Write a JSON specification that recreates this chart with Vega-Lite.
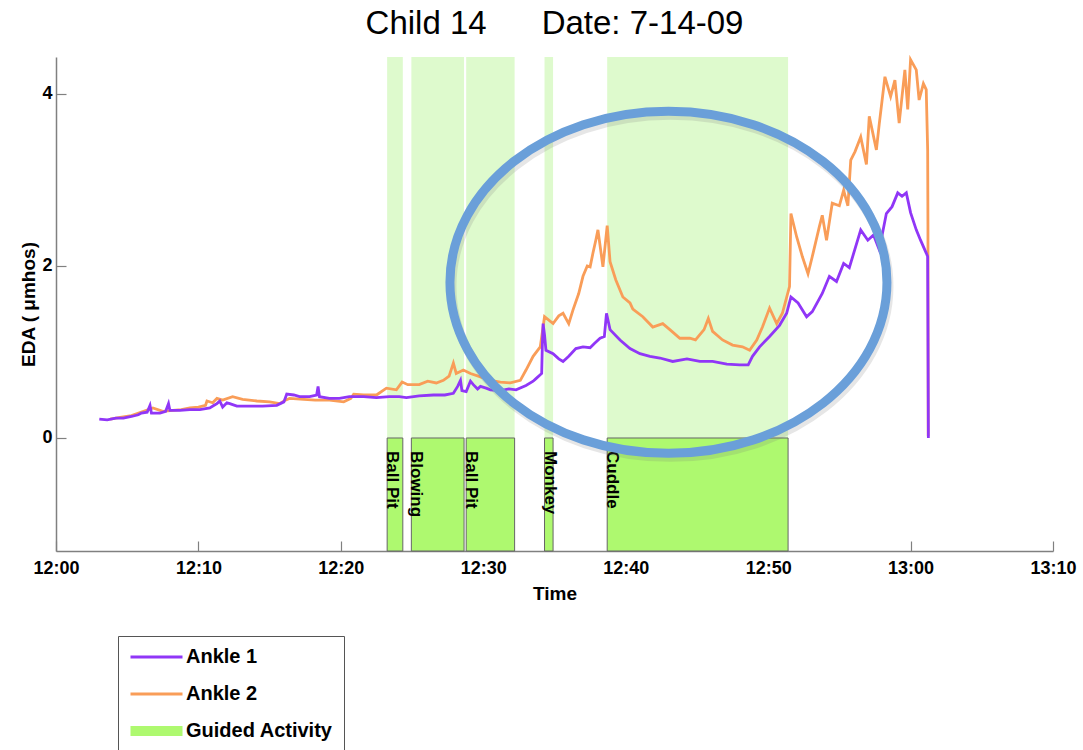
{
  "$schema": "https://vega.github.io/schema/vega-lite/v6.json",
  "width": 997,
  "height": 494,
  "autosize": {"type": "none"},
  "padding": {"left": 56, "top": 57, "right": 30, "bottom": 199},
  "background": "white",
  "title": {
    "text": "Child 14\u00a0\u00a0\u00a0\u00a0\u00a0\u00a0Date: 7-14-09",
    "font": "Liberation Sans",
    "fontSize": 33,
    "fontWeight": "normal",
    "color": "black",
    "anchor": "middle",
    "offset": 13
  },
  "config": {
    "view": {"stroke": null},
    "axis": {
      "grid": false,
      "domainColor": "#808080",
      "domainWidth": 1.5,
      "tickColor": "#808080",
      "tickWidth": 1.2,
      "labelFont": "Liberation Sans",
      "labelFontSize": 18,
      "labelFontWeight": "bold",
      "labelColor": "black",
      "titleFont": "Liberation Sans",
      "titleFontSize": 19,
      "titleFontWeight": "bold",
      "titleColor": "black"
    }
  },
  "datasets": {
    "acts": [
      {"name": "Ball Pit", "start": 23.25, "end": 24.35},
      {"name": "Blowing", "start": 24.95, "end": 28.65},
      {"name": "Ball Pit", "start": 28.8, "end": 32.2},
      {"name": "Monkey", "start": 34.3, "end": 34.9},
      {"name": "Cuddle", "start": 38.7, "end": 51.4}
    ],
    "ring": [{"m": 43.0, "v": 1.81}],
    "eda": [
      {"sensor": "Ankle 1", "m": 3.04, "v": 0.22},
      {"sensor": "Ankle 1", "m": 3.6, "v": 0.21},
      {"sensor": "Ankle 1", "m": 4.2, "v": 0.23},
      {"sensor": "Ankle 1", "m": 4.73, "v": 0.23},
      {"sensor": "Ankle 1", "m": 5.3, "v": 0.25},
      {"sensor": "Ankle 1", "m": 5.78, "v": 0.27},
      {"sensor": "Ankle 1", "m": 6.0, "v": 0.29},
      {"sensor": "Ankle 1", "m": 6.4, "v": 0.3},
      {"sensor": "Ankle 1", "m": 6.6, "v": 0.38},
      {"sensor": "Ankle 1", "m": 6.7, "v": 0.29},
      {"sensor": "Ankle 1", "m": 7.3, "v": 0.29},
      {"sensor": "Ankle 1", "m": 7.7, "v": 0.31},
      {"sensor": "Ankle 1", "m": 7.9, "v": 0.4},
      {"sensor": "Ankle 1", "m": 8.0, "v": 0.32},
      {"sensor": "Ankle 1", "m": 8.7, "v": 0.32},
      {"sensor": "Ankle 1", "m": 9.4, "v": 0.33},
      {"sensor": "Ankle 1", "m": 10.1, "v": 0.33},
      {"sensor": "Ankle 1", "m": 10.8, "v": 0.35},
      {"sensor": "Ankle 1", "m": 11.1, "v": 0.38},
      {"sensor": "Ankle 1", "m": 11.3, "v": 0.4},
      {"sensor": "Ankle 1", "m": 11.5, "v": 0.43},
      {"sensor": "Ankle 1", "m": 11.7, "v": 0.36},
      {"sensor": "Ankle 1", "m": 12.0, "v": 0.41},
      {"sensor": "Ankle 1", "m": 12.2, "v": 0.4},
      {"sensor": "Ankle 1", "m": 12.7, "v": 0.37},
      {"sensor": "Ankle 1", "m": 13.6, "v": 0.37},
      {"sensor": "Ankle 1", "m": 14.5, "v": 0.37},
      {"sensor": "Ankle 1", "m": 15.5, "v": 0.38},
      {"sensor": "Ankle 1", "m": 16.0, "v": 0.42},
      {"sensor": "Ankle 1", "m": 16.2, "v": 0.51},
      {"sensor": "Ankle 1", "m": 16.7, "v": 0.5},
      {"sensor": "Ankle 1", "m": 17.1, "v": 0.48},
      {"sensor": "Ankle 1", "m": 17.8, "v": 0.48},
      {"sensor": "Ankle 1", "m": 18.3, "v": 0.5},
      {"sensor": "Ankle 1", "m": 18.4, "v": 0.6},
      {"sensor": "Ankle 1", "m": 18.5, "v": 0.48},
      {"sensor": "Ankle 1", "m": 19.2, "v": 0.46},
      {"sensor": "Ankle 1", "m": 19.9, "v": 0.46},
      {"sensor": "Ankle 1", "m": 20.6, "v": 0.48},
      {"sensor": "Ankle 1", "m": 21.6, "v": 0.48},
      {"sensor": "Ankle 1", "m": 22.5, "v": 0.47},
      {"sensor": "Ankle 1", "m": 23.4, "v": 0.48},
      {"sensor": "Ankle 1", "m": 24.1, "v": 0.48},
      {"sensor": "Ankle 1", "m": 24.6, "v": 0.47},
      {"sensor": "Ankle 1", "m": 25.5, "v": 0.49},
      {"sensor": "Ankle 1", "m": 26.5, "v": 0.5},
      {"sensor": "Ankle 1", "m": 27.3, "v": 0.5},
      {"sensor": "Ankle 1", "m": 27.9, "v": 0.52},
      {"sensor": "Ankle 1", "m": 28.2, "v": 0.6},
      {"sensor": "Ankle 1", "m": 28.4, "v": 0.67},
      {"sensor": "Ankle 1", "m": 28.5, "v": 0.55},
      {"sensor": "Ankle 1", "m": 28.8, "v": 0.54},
      {"sensor": "Ankle 1", "m": 29.1, "v": 0.66},
      {"sensor": "Ankle 1", "m": 29.3, "v": 0.62},
      {"sensor": "Ankle 1", "m": 29.6, "v": 0.57},
      {"sensor": "Ankle 1", "m": 29.8, "v": 0.6},
      {"sensor": "Ankle 1", "m": 30.2, "v": 0.58},
      {"sensor": "Ankle 1", "m": 30.5, "v": 0.56},
      {"sensor": "Ankle 1", "m": 31.2, "v": 0.55},
      {"sensor": "Ankle 1", "m": 31.8, "v": 0.57},
      {"sensor": "Ankle 1", "m": 32.3, "v": 0.56},
      {"sensor": "Ankle 1", "m": 33.0, "v": 0.61},
      {"sensor": "Ankle 1", "m": 33.5, "v": 0.66},
      {"sensor": "Ankle 1", "m": 33.7, "v": 0.69},
      {"sensor": "Ankle 1", "m": 34.1, "v": 0.75},
      {"sensor": "Ankle 1", "m": 34.15, "v": 1.1},
      {"sensor": "Ankle 1", "m": 34.2, "v": 1.33},
      {"sensor": "Ankle 1", "m": 34.3, "v": 1.2},
      {"sensor": "Ankle 1", "m": 34.4, "v": 1.02},
      {"sensor": "Ankle 1", "m": 34.9, "v": 0.98},
      {"sensor": "Ankle 1", "m": 35.3, "v": 0.92},
      {"sensor": "Ankle 1", "m": 35.6, "v": 0.89},
      {"sensor": "Ankle 1", "m": 36.0, "v": 0.95},
      {"sensor": "Ankle 1", "m": 36.5, "v": 1.04},
      {"sensor": "Ankle 1", "m": 37.0, "v": 1.06},
      {"sensor": "Ankle 1", "m": 37.5, "v": 1.05},
      {"sensor": "Ankle 1", "m": 37.8, "v": 1.1},
      {"sensor": "Ankle 1", "m": 38.2, "v": 1.16},
      {"sensor": "Ankle 1", "m": 38.5, "v": 1.18},
      {"sensor": "Ankle 1", "m": 38.65, "v": 1.45},
      {"sensor": "Ankle 1", "m": 38.9, "v": 1.26},
      {"sensor": "Ankle 1", "m": 39.6, "v": 1.14},
      {"sensor": "Ankle 1", "m": 40.3, "v": 1.04},
      {"sensor": "Ankle 1", "m": 41.0, "v": 0.98},
      {"sensor": "Ankle 1", "m": 41.7, "v": 0.95},
      {"sensor": "Ankle 1", "m": 42.4, "v": 0.93},
      {"sensor": "Ankle 1", "m": 43.3, "v": 0.89},
      {"sensor": "Ankle 1", "m": 44.3, "v": 0.92},
      {"sensor": "Ankle 1", "m": 45.2, "v": 0.89},
      {"sensor": "Ankle 1", "m": 46.1, "v": 0.89},
      {"sensor": "Ankle 1", "m": 47.1, "v": 0.86},
      {"sensor": "Ankle 1", "m": 48.0, "v": 0.85},
      {"sensor": "Ankle 1", "m": 48.6, "v": 0.85},
      {"sensor": "Ankle 1", "m": 48.9, "v": 0.95},
      {"sensor": "Ankle 1", "m": 49.4, "v": 1.06},
      {"sensor": "Ankle 1", "m": 50.1, "v": 1.18},
      {"sensor": "Ankle 1", "m": 50.8, "v": 1.31},
      {"sensor": "Ankle 1", "m": 51.3, "v": 1.45},
      {"sensor": "Ankle 1", "m": 51.6, "v": 1.64},
      {"sensor": "Ankle 1", "m": 52.1, "v": 1.57},
      {"sensor": "Ankle 1", "m": 52.7, "v": 1.41},
      {"sensor": "Ankle 1", "m": 53.1, "v": 1.47},
      {"sensor": "Ankle 1", "m": 53.8, "v": 1.68},
      {"sensor": "Ankle 1", "m": 54.3, "v": 1.88},
      {"sensor": "Ankle 1", "m": 54.8, "v": 1.82},
      {"sensor": "Ankle 1", "m": 55.3, "v": 2.03},
      {"sensor": "Ankle 1", "m": 55.7, "v": 1.98},
      {"sensor": "Ankle 1", "m": 56.5, "v": 2.42},
      {"sensor": "Ankle 1", "m": 57.0, "v": 2.3},
      {"sensor": "Ankle 1", "m": 57.4, "v": 2.36},
      {"sensor": "Ankle 1", "m": 57.8, "v": 2.19},
      {"sensor": "Ankle 1", "m": 58.3, "v": 2.61},
      {"sensor": "Ankle 1", "m": 58.7, "v": 2.69},
      {"sensor": "Ankle 1", "m": 59.1, "v": 2.85},
      {"sensor": "Ankle 1", "m": 59.4, "v": 2.81},
      {"sensor": "Ankle 1", "m": 59.7, "v": 2.85},
      {"sensor": "Ankle 1", "m": 60.0, "v": 2.62},
      {"sensor": "Ankle 1", "m": 60.4, "v": 2.42},
      {"sensor": "Ankle 1", "m": 60.7, "v": 2.3},
      {"sensor": "Ankle 1", "m": 61.1, "v": 2.15},
      {"sensor": "Ankle 1", "m": 61.2, "v": 2.11},
      {"sensor": "Ankle 1", "m": 61.25, "v": 0.0},
      {"sensor": "Ankle 2", "m": 3.8, "v": 0.22},
      {"sensor": "Ankle 2", "m": 4.5, "v": 0.24},
      {"sensor": "Ankle 2", "m": 5.3, "v": 0.26},
      {"sensor": "Ankle 2", "m": 6.0, "v": 0.3},
      {"sensor": "Ankle 2", "m": 6.5, "v": 0.33},
      {"sensor": "Ankle 2", "m": 6.8, "v": 0.35},
      {"sensor": "Ankle 2", "m": 7.5, "v": 0.31},
      {"sensor": "Ankle 2", "m": 8.2, "v": 0.32},
      {"sensor": "Ankle 2", "m": 8.8, "v": 0.33},
      {"sensor": "Ankle 2", "m": 9.4, "v": 0.35},
      {"sensor": "Ankle 2", "m": 10.0, "v": 0.36},
      {"sensor": "Ankle 2", "m": 10.5, "v": 0.38},
      {"sensor": "Ankle 2", "m": 10.6, "v": 0.43},
      {"sensor": "Ankle 2", "m": 11.0, "v": 0.41},
      {"sensor": "Ankle 2", "m": 11.3, "v": 0.46},
      {"sensor": "Ankle 2", "m": 11.7, "v": 0.44},
      {"sensor": "Ankle 2", "m": 12.4, "v": 0.48},
      {"sensor": "Ankle 2", "m": 13.1, "v": 0.45},
      {"sensor": "Ankle 2", "m": 14.1, "v": 0.43},
      {"sensor": "Ankle 2", "m": 15.0, "v": 0.42},
      {"sensor": "Ankle 2", "m": 15.7, "v": 0.4},
      {"sensor": "Ankle 2", "m": 16.1, "v": 0.44},
      {"sensor": "Ankle 2", "m": 16.4, "v": 0.46},
      {"sensor": "Ankle 2", "m": 17.4, "v": 0.45},
      {"sensor": "Ankle 2", "m": 18.2, "v": 0.44},
      {"sensor": "Ankle 2", "m": 19.2, "v": 0.44},
      {"sensor": "Ankle 2", "m": 20.2, "v": 0.42},
      {"sensor": "Ankle 2", "m": 20.7, "v": 0.46},
      {"sensor": "Ankle 2", "m": 20.9, "v": 0.51},
      {"sensor": "Ankle 2", "m": 21.6, "v": 0.5},
      {"sensor": "Ankle 2", "m": 22.5, "v": 0.5},
      {"sensor": "Ankle 2", "m": 23.2, "v": 0.58},
      {"sensor": "Ankle 2", "m": 23.9, "v": 0.56},
      {"sensor": "Ankle 2", "m": 24.3, "v": 0.65},
      {"sensor": "Ankle 2", "m": 24.7, "v": 0.62},
      {"sensor": "Ankle 2", "m": 25.5, "v": 0.62},
      {"sensor": "Ankle 2", "m": 26.1, "v": 0.66},
      {"sensor": "Ankle 2", "m": 26.7, "v": 0.64},
      {"sensor": "Ankle 2", "m": 27.2, "v": 0.67},
      {"sensor": "Ankle 2", "m": 27.6, "v": 0.72},
      {"sensor": "Ankle 2", "m": 27.9, "v": 0.87},
      {"sensor": "Ankle 2", "m": 28.1, "v": 0.75},
      {"sensor": "Ankle 2", "m": 28.6, "v": 0.79},
      {"sensor": "Ankle 2", "m": 29.1, "v": 0.75},
      {"sensor": "Ankle 2", "m": 29.8, "v": 0.71},
      {"sensor": "Ankle 2", "m": 30.5, "v": 0.67},
      {"sensor": "Ankle 2", "m": 31.2, "v": 0.65},
      {"sensor": "Ankle 2", "m": 31.9, "v": 0.64},
      {"sensor": "Ankle 2", "m": 32.6, "v": 0.67},
      {"sensor": "Ankle 2", "m": 33.0, "v": 0.79},
      {"sensor": "Ankle 2", "m": 33.5, "v": 0.95},
      {"sensor": "Ankle 2", "m": 34.0, "v": 1.06},
      {"sensor": "Ankle 2", "m": 34.3, "v": 1.41},
      {"sensor": "Ankle 2", "m": 34.9, "v": 1.33},
      {"sensor": "Ankle 2", "m": 35.3, "v": 1.42},
      {"sensor": "Ankle 2", "m": 35.6, "v": 1.45},
      {"sensor": "Ankle 2", "m": 36.0, "v": 1.33},
      {"sensor": "Ankle 2", "m": 36.3, "v": 1.49},
      {"sensor": "Ankle 2", "m": 36.7, "v": 1.68},
      {"sensor": "Ankle 2", "m": 37.0, "v": 1.88},
      {"sensor": "Ankle 2", "m": 37.3, "v": 2.0},
      {"sensor": "Ankle 2", "m": 37.5, "v": 1.99},
      {"sensor": "Ankle 2", "m": 37.7, "v": 2.15},
      {"sensor": "Ankle 2", "m": 37.9, "v": 2.3},
      {"sensor": "Ankle 2", "m": 38.05, "v": 2.42},
      {"sensor": "Ankle 2", "m": 38.4, "v": 1.99},
      {"sensor": "Ankle 2", "m": 38.7, "v": 2.47},
      {"sensor": "Ankle 2", "m": 38.9, "v": 2.05},
      {"sensor": "Ankle 2", "m": 39.3, "v": 1.84},
      {"sensor": "Ankle 2", "m": 39.8, "v": 1.64},
      {"sensor": "Ankle 2", "m": 40.3, "v": 1.57},
      {"sensor": "Ankle 2", "m": 40.5, "v": 1.5},
      {"sensor": "Ankle 2", "m": 41.2, "v": 1.41},
      {"sensor": "Ankle 2", "m": 41.9, "v": 1.29},
      {"sensor": "Ankle 2", "m": 42.6, "v": 1.33},
      {"sensor": "Ankle 2", "m": 43.1, "v": 1.26},
      {"sensor": "Ankle 2", "m": 43.8, "v": 1.16},
      {"sensor": "Ankle 2", "m": 44.5, "v": 1.16},
      {"sensor": "Ankle 2", "m": 44.9, "v": 1.14},
      {"sensor": "Ankle 2", "m": 45.5, "v": 1.26},
      {"sensor": "Ankle 2", "m": 45.8, "v": 1.39},
      {"sensor": "Ankle 2", "m": 46.1, "v": 1.24},
      {"sensor": "Ankle 2", "m": 46.8, "v": 1.14},
      {"sensor": "Ankle 2", "m": 47.5, "v": 1.08},
      {"sensor": "Ankle 2", "m": 48.2, "v": 1.06},
      {"sensor": "Ankle 2", "m": 48.7, "v": 1.02},
      {"sensor": "Ankle 2", "m": 49.2, "v": 1.14},
      {"sensor": "Ankle 2", "m": 49.6, "v": 1.29},
      {"sensor": "Ankle 2", "m": 50.1, "v": 1.51},
      {"sensor": "Ankle 2", "m": 50.6, "v": 1.33},
      {"sensor": "Ankle 2", "m": 51.0, "v": 1.45},
      {"sensor": "Ankle 2", "m": 51.5, "v": 1.76},
      {"sensor": "Ankle 2", "m": 51.6, "v": 2.61},
      {"sensor": "Ankle 2", "m": 52.0, "v": 2.34},
      {"sensor": "Ankle 2", "m": 52.4, "v": 2.11},
      {"sensor": "Ankle 2", "m": 52.8, "v": 1.91},
      {"sensor": "Ankle 2", "m": 53.1, "v": 2.11},
      {"sensor": "Ankle 2", "m": 53.6, "v": 2.46},
      {"sensor": "Ankle 2", "m": 53.8, "v": 2.59},
      {"sensor": "Ankle 2", "m": 54.1, "v": 2.3},
      {"sensor": "Ankle 2", "m": 54.5, "v": 2.73},
      {"sensor": "Ankle 2", "m": 55.0, "v": 2.7},
      {"sensor": "Ankle 2", "m": 55.3, "v": 2.88},
      {"sensor": "Ankle 2", "m": 55.6, "v": 2.7},
      {"sensor": "Ankle 2", "m": 55.8, "v": 3.23},
      {"sensor": "Ankle 2", "m": 56.1, "v": 3.33},
      {"sensor": "Ankle 2", "m": 56.5, "v": 3.5},
      {"sensor": "Ankle 2", "m": 56.9, "v": 3.18},
      {"sensor": "Ankle 2", "m": 57.1, "v": 3.74},
      {"sensor": "Ankle 2", "m": 57.6, "v": 3.35},
      {"sensor": "Ankle 2", "m": 57.8, "v": 3.65},
      {"sensor": "Ankle 2", "m": 58.2, "v": 4.2},
      {"sensor": "Ankle 2", "m": 58.6, "v": 3.97},
      {"sensor": "Ankle 2", "m": 58.9, "v": 4.16},
      {"sensor": "Ankle 2", "m": 59.2, "v": 3.66},
      {"sensor": "Ankle 2", "m": 59.6, "v": 4.28},
      {"sensor": "Ankle 2", "m": 59.8, "v": 3.82},
      {"sensor": "Ankle 2", "m": 60.0, "v": 4.4},
      {"sensor": "Ankle 2", "m": 60.4, "v": 4.28},
      {"sensor": "Ankle 2", "m": 60.6, "v": 3.93},
      {"sensor": "Ankle 2", "m": 60.9, "v": 4.12},
      {"sensor": "Ankle 2", "m": 61.1, "v": 4.05},
      {"sensor": "Ankle 2", "m": 61.2, "v": 3.35},
      {"sensor": "Ankle 2", "m": 61.22, "v": 2.48},
      {"sensor": "Ankle 2", "m": 61.24, "v": 0.02}
    ]
  },
  "layer": [
    {
      "data": {"name": "acts"},
      "mark": {"type": "rect", "fill": "#DEFACD"},
      "encoding": {
        "x": {
          "field": "start",
          "type": "quantitative",
          "title": "Time",
          "scale": {"domain": [0, 70], "nice": false, "zero": false},
          "axis": {
            "title": "Time",
            "values": [0, 10, 20, 30, 40, 50, 60, 70],
            "labelExpr": "(datum.value < 60 ? '12:' : '13:') + (datum.value % 60 < 10 ? '0' : '') + (datum.value % 60)",
            "tickSize": -10,
            "labelPadding": 18,
            "titlePadding": 7,
            "labelFlush": false,
            "labelOverlap": false
          }
        },
        "x2": {"field": "end"},
        "y": {
          "datum": 4.43,
          "type": "quantitative",
          "title": "EDA ( μmhos)",
          "scale": {"domain": [-1.314, 4.43], "nice": false, "zero": false},
          "axis": {
            "title": "EDA ( μmhos)",
            "values": [0, 2, 4],
            "format": "d",
            "tickSize": -10,
            "labelPadding": 14,
            "titlePadding": 3
          }
        },
        "y2": {"datum": 0}
      }
    },
    {
      "data": {"name": "acts"},
      "mark": {"type": "rect", "fill": "#AEF96F", "stroke": "#666666", "strokeWidth": 1},
      "encoding": {
        "x": {"field": "start", "type": "quantitative", "title": "Time"},
        "x2": {"field": "end"},
        "y": {"datum": 0, "type": "quantitative", "title": "EDA ( μmhos)"},
        "y2": {"datum": -1.314}
      }
    },
    {
      "data": {"name": "acts"},
      "mark": {"type": "text", "angle": 90, "align": "left", "baseline": "alphabetic", "dx": 13, "font": "Liberation Sans", "fontWeight": "bold", "fontSize": 17, "color": "black"},
      "encoding": {
        "x": {"field": "start", "type": "quantitative", "title": "Time"},
        "y": {"datum": 0, "type": "quantitative", "title": "EDA ( μmhos)"},
        "text": {"field": "name"}
      }
    },
    {
      "data": {"name": "eda"},
      "transform": [{"filter": "datum.sensor === 'Ankle 2'"}],
      "mark": {"type": "line", "strokeWidth": 2.8},
      "encoding": {
        "x": {"field": "m", "type": "quantitative", "title": "Time"},
        "y": {"field": "v", "type": "quantitative", "title": "EDA ( μmhos)"},
        "color": {
          "field": "sensor",
          "type": "nominal",
          "scale": {"domain": ["Ankle 1", "Ankle 2", "Guided Activity"], "range": ["#9036F7", "#F99D58", "#AEF96F"]},
          "legend": {
            "title": null,
            "orient": "none",
            "legendX": 62,
            "legendY": 579,
            "direction": "vertical",
            "symbolType": "stroke",
            "symbolSize": 2704,
            "symbolStrokeWidth": 3,
            "clipHeight": 20,
            "rowPadding": 17,
            "labelFont": "Liberation Sans",
            "labelFontSize": 20,
            "labelFontWeight": "bold",
            "labelColor": "black",
            "labelOffset": 2,
            "padding": 11,
            "strokeColor": "#555555",
            "fillColor": "white",
            "encode": {"symbols": {"update": {"strokeWidth": {"signal": "(datum.value === 'Guided Activity' ? 10 : 3)"}}}}
          }
        }
      }
    },
    {
      "data": {"name": "eda"},
      "transform": [{"filter": "datum.sensor === 'Ankle 1'"}],
      "mark": {"type": "line", "strokeWidth": 2.8},
      "encoding": {
        "x": {"field": "m", "type": "quantitative", "title": "Time"},
        "y": {"field": "v", "type": "quantitative", "title": "EDA ( μmhos)"},
        "color": {"field": "sensor", "type": "nominal", "legend": null}
      }
    },
    {
      "data": {"name": "ring"},
      "mark": {"type": "point", "shape": "M -1 0 A 1 0.7826 0 1 1 1 0 A 1 0.7826 0 1 1 -1 0 Z", "size": 190969, "filled": false, "stroke": "#777777", "strokeWidth": 9, "opacity": 0.18, "xOffset": 2, "yOffset": 4},
      "encoding": {
        "x": {"field": "m", "type": "quantitative", "title": "Time"},
        "y": {"field": "v", "type": "quantitative", "title": "EDA ( μmhos)"}
      }
    },
    {
      "data": {"name": "ring"},
      "mark": {"type": "point", "shape": "M -1 0 A 1 0.7826 0 1 1 1 0 A 1 0.7826 0 1 1 -1 0 Z", "size": 190969, "filled": false, "stroke": "#6A9FD9", "strokeWidth": 9, "opacity": 1},
      "encoding": {
        "x": {"field": "m", "type": "quantitative", "title": "Time"},
        "y": {"field": "v", "type": "quantitative", "title": "EDA ( μmhos)"}
      }
    }
  ]
}
